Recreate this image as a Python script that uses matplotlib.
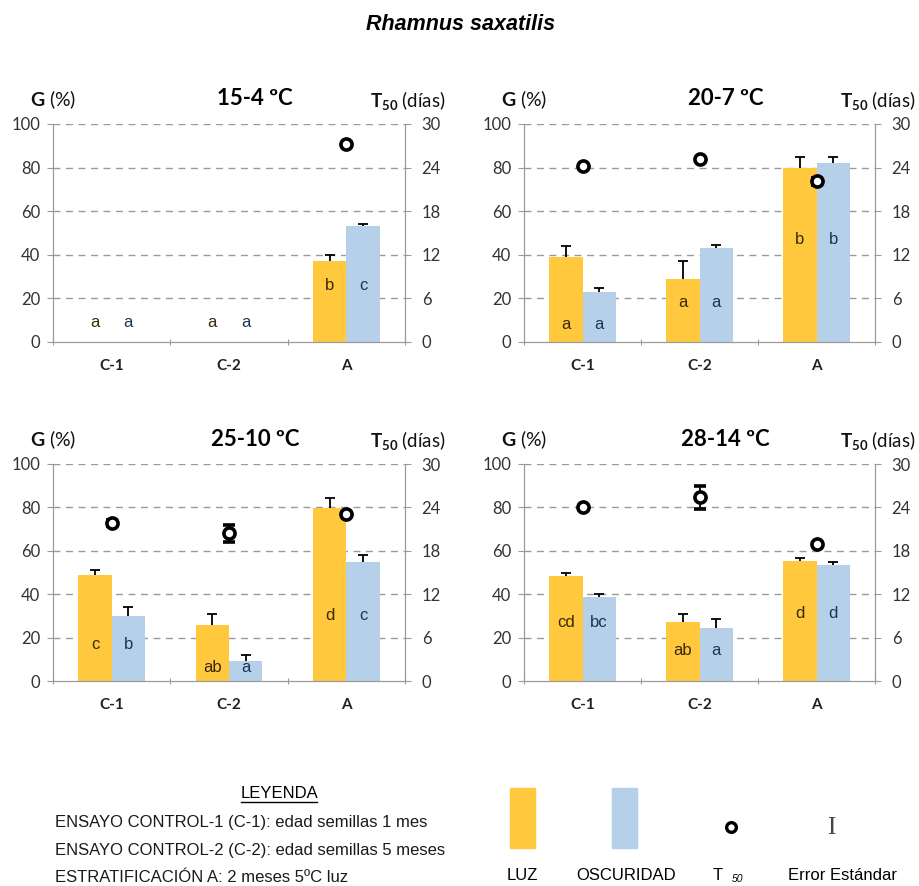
import numpy as np
import matplotlib.pyplot as plt
from matplotlib.patches import Rectangle

plt.rcParams['font.family'] = ['Lato', 'DejaVu Sans']
plt.rcParams['mathtext.fontset'] = 'custom'
plt.rcParams['mathtext.rm'] = 'Lato'
plt.rcParams['mathtext.bf'] = 'Lato:bold'

# --------------
# Data
# --------------
categories = ["C-1", "C-2", "A"]
panel_titles = ["15-4 ºC", "20-7 ºC", "25-10 ºC", "28-14 ºC"]

luz = [[0, 0, 37], [39, 29, 80], [49, 26, 79.5], [48.5, 27, 55.5]]
luz_err = [[0, 0, 3], [5, 8, 5], [2, 5, 5], [1.5, 4, 1]]
osc = [[0, 0, 53], [23, 43, 82], [30, 9, 55], [38.5, 24.5, 53.5]]
osc_err = [[0, 0, 1], [2, 1.5, 3], [4, 3, 3], [1.5, 4, 1.5]]

# T50 (days), None = not germinated
t50 = [[None, None, 27.3], [24.2, 25.2, 22.1], [21.8, 20.4, 23.1], [24.0, 25.4, 18.9]]
t50_err = [[0, 0, 0], [0, 0, 0.5], [0.4, 1.2, 0], [0, 1.6, 0]]

luz_letters = [["a", "a", "b"], ["a", "a", "b"], ["c", "ab", "d"], ["cd", "ab", "d"]]
osc_letters = [["a", "a", "c"], ["a", "a", "b"], ["b", "a", "c"], ["bc", "a", "d"]]
letter_y = [[9, 9, 26], [8, 18, 47], [17, 6, 30], [27, 14, 31]]

legend_lines = ["ENSAYO CONTROL-1 (C-1): edad semillas 1 mes",
                "ENSAYO CONTROL-2 (C-2): edad semillas 5 meses",
                "ESTRATIFICACIÓN A: 2 meses 5ºC luz"]

# --------------
# Style
# --------------
C_LUZ = "#FFC83D"
C_OSC = "#B7D0EA"
C_GRID = "#9a9a9a"
C_SPINE = "#9a9a9a"
C_TICK = "#333333"
W, H = 919, 886

fig = plt.figure(figsize=(W / 100, H / 100), dpi=100)
fig.text(461 / W, 1 - 25 / H, "Rhamnus saxatilis", ha="center", va="center",
         fontsize=15.5, fontweight="bold", style="italic", family="Liberation Sans")

# axes boxes in pixels: left, top, right, bottom
boxes = [(53, 124, 405, 342), (524, 124, 875, 342),
         (53, 464, 405, 681), (524, 464, 875, 681)]

x = np.arange(len(categories))
bw = 0.285


def up_err(ax, xpos, y, e):
    # upper half error bar only, as in the original
    _, caps, _ = ax.errorbar(xpos, y, yerr=[[0], [e]], color="black",
                             capsize=3.5, lw=1.3, capthick=1.3, zorder=3)
    caps[0].set_visible(False)


for i, (l, t, r, b) in enumerate(boxes):
    ax = fig.add_axes([l / W, 1 - b / H, (r - l) / W, (b - t) / H])
    ax2 = ax.twinx()

    ax.bar(x - bw / 2, luz[i], bw, color=C_LUZ, zorder=2)
    ax.bar(x + bw / 2, osc[i], bw, color=C_OSC, zorder=2)
    for j in range(len(categories)):
        if luz_err[i][j] > 0:
            up_err(ax, x[j] - bw / 2, luz[i][j], luz_err[i][j])
        if osc_err[i][j] > 0:
            up_err(ax, x[j] + bw / 2, osc[i][j], osc_err[i][j])
        ax.text(x[j] - bw / 2, letter_y[i][j], luz_letters[i][j], ha="center",
                va="center", fontsize=12, color="#3b2a05", zorder=4,
                family="Liberation Sans")
        ax.text(x[j] + bw / 2, letter_y[i][j], osc_letters[i][j], ha="center",
                va="center", fontsize=12, color="#1c3553", zorder=4,
                family="Liberation Sans")

    ax.set_xlim(-0.5, 2.5)
    ax.set_ylim(0, 100)
    ax.set_yticks([0, 20, 40, 60, 80, 100])
    for g in [20, 40, 60, 80, 100]:
        ax.axhline(g, color=C_GRID, lw=1.0, ls=(0, (5, 4)), zorder=1)
    ax.set_xticks([-0.5, 0.5, 1.5, 2.5])
    ax.set_xticklabels([])
    ax.set_xticks(x, minor=True)
    ax.set_xticklabels(categories, minor=True, fontsize=11, fontweight="bold",
                       color="#222222")
    ax.tick_params(axis="x", which="major", direction="inout", length=5,
                   color=C_SPINE)
    ax.tick_params(axis="x", which="minor", length=0, pad=12)
    ax.tick_params(axis="y", direction="out", length=4, color=C_SPINE,
                   labelsize=12, labelcolor=C_TICK, pad=5)
    ax.spines["top"].set_visible(False)
    ax2.spines["top"].set_visible(False)
    for s in ["left", "bottom", "right"]:
        ax.spines[s].set_color(C_SPINE)
        ax2.spines[s].set_color(C_SPINE)
    ax.patch.set_visible(False)

    # T50 on right axis
    xs = [x[j] for j in range(3) if t50[i][j] is not None]
    ys = [t50[i][j] for j in range(3) if t50[i][j] is not None]
    es = [t50_err[i][j] for j in range(3) if t50[i][j] is not None]
    ax2.errorbar(xs, ys, yerr=es, fmt="o", ms=8, mfc="white", mec="black",
                 mew=2.6, ecolor="black", elinewidth=1.3, capsize=4,
                 capthick=1.3, zorder=5)
    ax2.set_ylim(0, 30)
    ax2.set_yticks([0, 6, 12, 18, 24, 30])
    ax2.tick_params(axis="y", direction="out", length=4, color=C_SPINE,
                    labelsize=12, labelcolor=C_TICK, pad=8)
    ax2.set_zorder(ax.get_zorder() + 1)
    ax2.patch.set_visible(False)

    ax.text(0.574, 1.115, panel_titles[i], transform=ax.transAxes, ha="center",
            va="center", fontsize=16, fontweight="bold")
    ax.text(-0.066, 1.11, r"$\mathbf{G}$ (%)", transform=ax.transAxes,
            ha="left", va="center", fontsize=14, color="#111111")
    ax.text(1.115, 1.11, r"$\mathbf{T_{50}}$ (días)", transform=ax.transAxes,
            ha="right", va="center", fontsize=13.5, color="#111111")

# --------------
# Legend block
# --------------
lg = fig.add_axes([0, 0, 1, 1])
lg.set_xlim(0, W)
lg.set_ylim(H, 0)
lg.axis("off")

lf = "Liberation Sans"
lg.text(279, 793, "LEYENDA", ha="center", va="center", fontsize=12, family=lf)
lg.plot([241, 317], [801.5, 801.5], color="black", lw=1.0)
for k, line in enumerate(legend_lines):
    lg.text(55, 823 + 27 * k, line, ha="left", va="center", fontsize=12,
            family=lf, color="#1a1a1a")

lg.add_patch(Rectangle((510, 788), 25, 60, color=C_LUZ))
lg.add_patch(Rectangle((612, 788), 25, 60, color=C_OSC))
lg.plot([731], [827], "o", ms=7, mfc="white", mec="black", mew=2.4)
lg.text(831, 828, "I", ha="center", va="center", fontsize=18,
        family="Liberation Serif", color="#444444")
lg.text(522, 876, "LUZ", ha="center", va="center", fontsize=12, family=lf)
lg.text(626, 876, "OSCURIDAD", ha="center", va="center", fontsize=12, family=lf)
lg.text(718, 876, "T", ha="center", va="center", fontsize=12, family=lf)
lg.text(732, 879, "50", ha="left", va="center", fontsize=7.5, style="italic",
        family=lf)
lg.text(842, 876, "Error Estándar", ha="center", va="center", fontsize=12,
        family=lf)

fig.savefig("out.png", dpi=100)
